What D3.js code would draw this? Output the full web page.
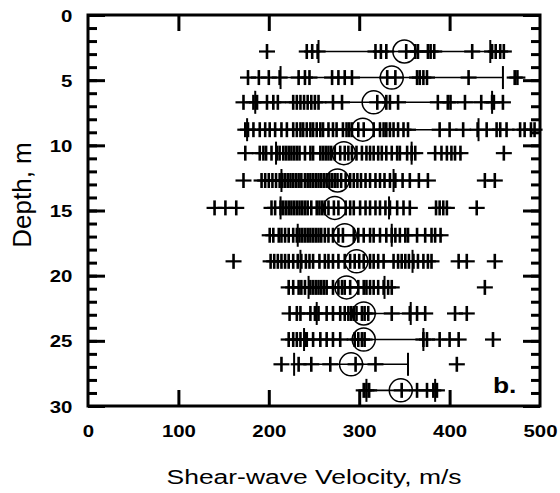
<!DOCTYPE html>
<html>
<head>
<meta charset="utf-8">
<script src="https://cdn.jsdelivr.net/npm/d3@7/dist/d3.min.js"></script>
<style>
  html, body { margin: 0; padding: 0; background: #fff; }
  svg { display: block; }
  text { font-family: "Liberation Sans", Arial, sans-serif; fill: #000; }
</style>
</head>
<body>
<svg id="chart" width="560" height="493"></svg>
<script>
// ---------------- data ----------------
const xTicks = [0, 100, 200, 300, 400, 500];
const yMajorTicks = [0, 5, 10, 15, 20, 25, 30];
const yMinorTicks = d3.range(0, 31, 1);

const depths = [2.8, 4.8, 6.7, 8.8, 10.6, 12.7, 14.8, 16.9, 18.9, 20.9, 22.9, 24.9, 26.8, 28.8];
const means  = [350, 336, 316, 304, 283, 276, 273, 284, 297, 286, 305, 305, 291, 346];
const sdevs  = [95, 123, 131, 128, 75, 62, 60, 52, 62, 42, 52, 66, 63, 38];

const row01 = [198, 242, 248, 254, 318, 324, 330, 352, 362, 365, 376, 379, 383, 425, 447, 451, 456, 460];
const row02 = [177, 189, 200, 212, 233, 240, 245, 270, 277, 284, 292, 331, 340, 364, 367, 371, 375, 421, 472, 475];
const row03 = [172, 183, 187, 198, 205, 210, 227, 231, 235, 239, 243, 247, 251, 255, 271, 281, 320, 330, 334, 343, 387, 398, 401, 417, 435, 447, 449, 459];
const row04 = [174, 177, 183, 190, 196, 201, 207, 214, 220, 227, 231, 235, 238, 242, 246, 249, 253, 257, 260, 266, 271, 275, 282, 286, 289, 292, 299, 305, 316, 323, 327, 330, 334, 338, 343, 349, 354, 389, 400, 415, 431, 441, 452, 456, 463, 478, 483, 490, 494];
const row05 = [174, 190, 194, 197, 203, 209, 212, 216, 219, 222, 225, 228, 231, 234, 240, 246, 249, 257, 260, 263, 266, 269, 273, 279, 284, 288, 292, 297, 303, 308, 312, 316, 321, 325, 330, 336, 342, 345, 353, 358, 362, 384, 391, 397, 402, 406, 412, 460];
const row06 = [172, 192, 196, 200, 204, 208, 212, 215, 218, 221, 224, 227, 230, 233, 236, 240, 243, 246, 249, 252, 255, 258, 261, 264, 267, 270, 273, 276, 280, 285, 290, 294, 298, 302, 307, 312, 318, 323, 328, 334, 340, 348, 356, 366, 376, 439, 450];
const row07 = [140, 152, 164, 203, 207, 213, 216, 219, 222, 225, 228, 231, 234, 237, 240, 243, 247, 253, 256, 259, 262, 266, 272, 277, 285, 290, 294, 301, 307, 312, 318, 323, 329, 334, 342, 349, 356, 385, 389, 393, 397, 430];
const row08 = [201, 205, 211, 214, 218, 222, 227, 231, 234, 237, 240, 243, 246, 249, 252, 255, 258, 262, 266, 271, 277, 282, 294, 299, 305, 312, 316, 323, 330, 336, 340, 345, 351, 354, 364, 373, 380, 384, 390];
const row09 = [161, 202, 206, 210, 214, 218, 222, 227, 232, 236, 241, 245, 249, 256, 262, 266, 271, 277, 284, 290, 295, 300, 305, 312, 316, 321, 327, 338, 343, 347, 351, 355, 360, 365, 371, 376, 380, 410, 419, 450];
const row10 = [222, 227, 233, 236, 240, 246, 249, 252, 255, 258, 261, 264, 271, 277, 281, 284, 290, 299, 305, 308, 312, 316, 321, 327, 332, 336, 439];
const row11 = [223, 231, 235, 246, 251, 255, 264, 271, 279, 284, 288, 291, 294, 297, 303, 306, 310, 336, 356, 364, 373, 406, 419];
const row12 = [222, 227, 231, 235, 240, 242, 249, 257, 264, 271, 279, 295, 299, 303, 306, 371, 375, 389, 400, 410, 448];
const row13 = [214, 233, 247, 268, 296, 318, 408];
const row14 = [305, 308, 311, 347, 364, 375, 382, 386];
const rows = [row01, row02, row03, row04, row05, row06, row07, row08, row09, row10, row11, row12, row13, row14];

// ---------------- drawing ----------------
const svg = d3.select("#chart");
const x = d3.scaleLinear().domain([0, 500]).range([88, 540]);
const y = d3.scaleLinear().domain([0, 30]).range([15, 406]);
const SX = 1.2; // horizontal text stretch seen in the reference

const plot = svg.append("g");

// error bars (mean ± sd) with end caps
const eb = plot.selectAll("g.eb").data(depths.map((d, i) => ({d, m: means[i], s: sdevs[i]})))
  .join("g").attr("class", "eb");
eb.append("line")
  .attr("x1", p => x(p.m - p.s)).attr("x2", p => x(p.m + p.s))
  .attr("y1", p => y(p.d)).attr("y2", p => y(p.d))
  .attr("stroke", "#000").attr("stroke-width", 1.6);
eb.selectAll("line.cap").data(p => [{v: p.m - p.s, d: p.d}, {v: p.m + p.s, d: p.d}])
  .join("line").attr("class", "cap")
  .attr("x1", c => x(c.v)).attr("x2", c => x(c.v))
  .attr("y1", c => y(c.d) - 11.5).attr("y2", c => y(c.d) + 11.5)
  .attr("stroke", "#000").attr("stroke-width", 2);

// data crosses
const pts = [];
rows.forEach((r, i) => r.forEach(v => pts.push({v, d: depths[i]})));
const cr = plot.selectAll("g.cross").data(pts).join("g").attr("class", "cross")
  .attr("transform", p => `translate(${x(p.v)},${y(p.d)})`);
cr.append("line").attr("x1", -8).attr("x2", 8).attr("y1", 0).attr("y2", 0)
  .attr("stroke", "#000").attr("stroke-width", 2.2);
cr.append("line").attr("x1", 0).attr("x2", 0).attr("y1", -7.5).attr("y2", 7.5)
  .attr("stroke", "#000").attr("stroke-width", 2.6);

// mean circles
plot.selectAll("circle.mean").data(depths.map((d, i) => ({d, m: means[i]})))
  .join("circle").attr("class", "mean")
  .attr("cx", p => x(p.m)).attr("cy", p => y(p.d)).attr("r", 11.5)
  .attr("fill", "none").attr("stroke", "#000").attr("stroke-width", 1.5);

// axes
function styleAxis(g) {
  g.select(".domain").remove();
  g.selectAll(".tick line").attr("stroke", "#000").attr("stroke-width", 3);
}
const gBottom = svg.append("g").attr("transform", "translate(0,406)")
  .call(d3.axisBottom(x).tickValues(xTicks).tickSizeInner(-16).tickSizeOuter(0).tickPadding(19))
  .call(styleAxis);
gBottom.selectAll(".tick text").attr("font-size", 17).attr("font-weight", "bold")
  .attr("font-family", "Liberation Sans, Arial, sans-serif").attr("transform", `scale(${SX},1)`);
gBottom.selectAll(".tick").filter(d => d === 0 || d === 500).select("line").remove();

svg.append("g").attr("transform", "translate(0,15)")
  .call(d3.axisTop(x).tickValues([100, 200, 300, 400]).tickSizeInner(-16).tickSizeOuter(0).tickFormat(""))
  .call(styleAxis);

// left minor + major
svg.append("g").attr("transform", "translate(88,0)")
  .call(d3.axisLeft(y).tickValues(yMinorTicks).tickSizeInner(-9).tickSizeOuter(0).tickFormat(""))
  .call(styleAxis);
const gLeft = svg.append("g").attr("transform", "translate(88,0)")
  .call(d3.axisLeft(y).tickValues(yMajorTicks).tickSizeInner(-17).tickSizeOuter(0).tickPadding(13))
  .call(styleAxis);
gLeft.selectAll(".tick text").attr("font-size", 17).attr("font-weight", "bold")
  .attr("font-family", "Liberation Sans, Arial, sans-serif").attr("transform", `scale(${SX},1)`)
  .attr("dy", "0.36em");
// right minor + major
svg.append("g").attr("transform", "translate(540,0)")
  .call(d3.axisRight(y).tickValues(yMinorTicks).tickSizeInner(-9).tickSizeOuter(0).tickFormat(""))
  .call(styleAxis);
svg.append("g").attr("transform", "translate(540,0)")
  .call(d3.axisRight(y).tickValues(yMajorTicks).tickSizeInner(-17).tickSizeOuter(0).tickFormat(""))
  .call(styleAxis);

// frame
svg.append("rect").attr("x", 88).attr("y", 15).attr("width", 452).attr("height", 391)
  .attr("fill", "none").attr("stroke", "#000").attr("stroke-width", 3);

// titles
svg.append("text").attr("transform", `translate(314,484) scale(1.26,1)`)
  .attr("text-anchor", "middle").attr("font-size", 21)
  .text("Shear-wave Velocity, m/s");
svg.append("text").attr("transform", `translate(31,195) rotate(-90)`)
  .attr("text-anchor", "middle").attr("font-size", 26)
  .text("Depth, m");
svg.append("text").attr("transform", `translate(493,393) scale(${SX},1)`)
  .attr("font-size", 22).attr("font-weight", "bold").text("b.");
</script>
</body>
</html>
